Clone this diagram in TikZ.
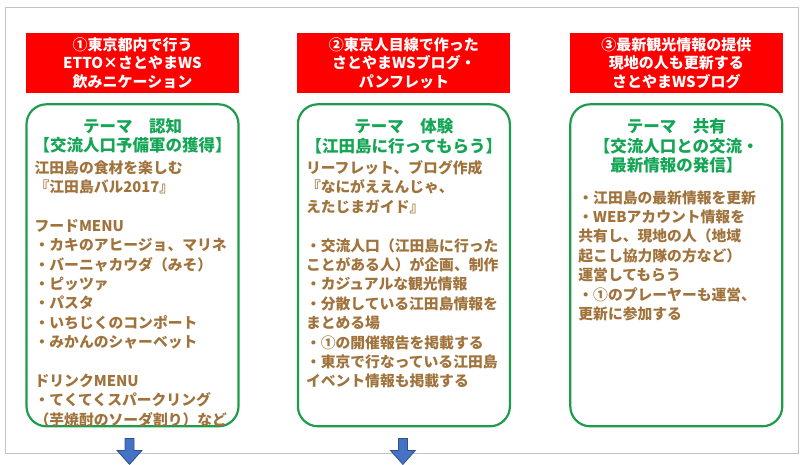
\documentclass[tikz,border=0pt]{standalone}
\usepackage{fontspec}
\newfontfamily\jpfont{Noto Sans CJK JP}
\usetikzlibrary{positioning,calc}
\definecolor{headred}{RGB}{255,0,0}
\definecolor{themegreen}{RGB}{30,155,75}
\definecolor{titlegreen}{RGB}{20,165,85}
\definecolor{bodybrown}{RGB}{160,115,60}
\definecolor{arrowblue}{RGB}{68,114,196}
\definecolor{arrowedge}{RGB}{47,82,143}
\definecolor{framegray}{RGB}{195,195,195}

\begin{document}
\begin{tikzpicture}[
  x=1pt, y=-1pt,
  head/.style={fill=headred, text=white, align=center, minimum width=213pt, minimum height=60pt, inner sep=0pt, font=\jpfont\bfseries\fontsize{15}{18.5}\selectfont},
  theme/.style={draw=themegreen, line width=2.2pt, rounded corners=20pt, minimum width=212pt, minimum height=322pt},
  title/.style={text=titlegreen, align=center, inner sep=0pt, font=\jpfont\bfseries\fontsize{16.5}{19.5}\selectfont},
  body/.style={text=bodybrown, align=left, inner sep=0pt, font=\jpfont\bfseries\fontsize{14.8}{19.4}\selectfont},
  down/.style={fill=arrowblue, draw=arrowedge, line width=0.8pt}
]
\useasboundingbox (0,0) rectangle (810,464);
\draw[framegray, line width=1pt] (5,7) rectangle (798,453);

\node[head] (head1) at (132.5,63) {①東京都内で行う\\ETTO×さとやまWS\\飲みニケーション};
\node[head, right=58pt of head1] (head2) {②東京人目線で作った\\さとやまWSブログ・\\パンフレット};
\node[head, right=59pt of head2] (head3) {③最新観光情報の提供\\現地の人も更新する\\さとやまWSブログ};

\node[theme, below=10pt of head1] (theme1) {};
\node[theme, below=10pt of head2] (theme2) {};
\node[theme, below=10pt of head3] (theme3) {};

\node[title, below=15pt of theme1.north] (title1) {テーマ　認知\\【交流人口予備軍の獲得】};
\node[title, below=15pt of theme2.north] (title2) {テーマ　体験\\【江田島に行ってもらう】};
\node[title, below=15pt of theme3.north] (title3) {テーマ　共有\\【交流人口との交流・\\最新情報の発信】};

\node[body, below right=57pt and 9pt of theme1.north west] (body1) {江田島の食材を楽しむ\\
『江田島バル2017』\\[19.4pt]
フードMENU\\
・カキのアヒージョ、マリネ\\
・バーニャカウダ（みそ）\\
・ピッツァ\\
・パスタ\\
・いちじくのコンポート\\
・みかんのシャーベット\\[19.4pt]
ドリンクMENU\\
・てくてくスパークリング\\
（芋焼酎のソーダ割り）など};
\node[body, below right=57pt and 9pt of theme2.north west] (body2) {リーフレット、ブログ作成\\
『なにがええんじゃ、\\
えたじまガイド』\\[19.4pt]
・交流人口（江田島に行った\\
ことがある人）が企画、制作\\
・カジュアルな観光情報\\
・分散している江田島情報を\\
まとめる場\\
・①の開催報告を掲載する\\
・東京で行なっている江田島\\
イベント情報も掲載する};
\node[body, below right=87pt and 9pt of theme3.north west] (body3) {・江田島の最新情報を更新\\
・WEBアカウント情報を\\
共有し、現地の人（地域\\
起こし協力隊の方など）\\
運営してもらう\\
・①のプレーヤーも運営、\\
更新に参加する};

\coordinate (down1) at ($(theme1.south)+(-3,11)$);
\coordinate (down2) at ($(theme2.south)+(-1,11)$);
\draw[down] ($(down1)+(-4.5,0)$) -- ++(9,0) -- ++(0,12) -- ++(8,0) -- ++(-12.5,14) -- ++(-12.5,-14) -- ++(8,0) -- cycle;
\draw[down] ($(down2)+(-4.5,0)$) -- ++(9,0) -- ++(0,12) -- ++(8,0) -- ++(-12.5,14) -- ++(-12.5,-14) -- ++(8,0) -- cycle;
\end{tikzpicture}
\end{document}
